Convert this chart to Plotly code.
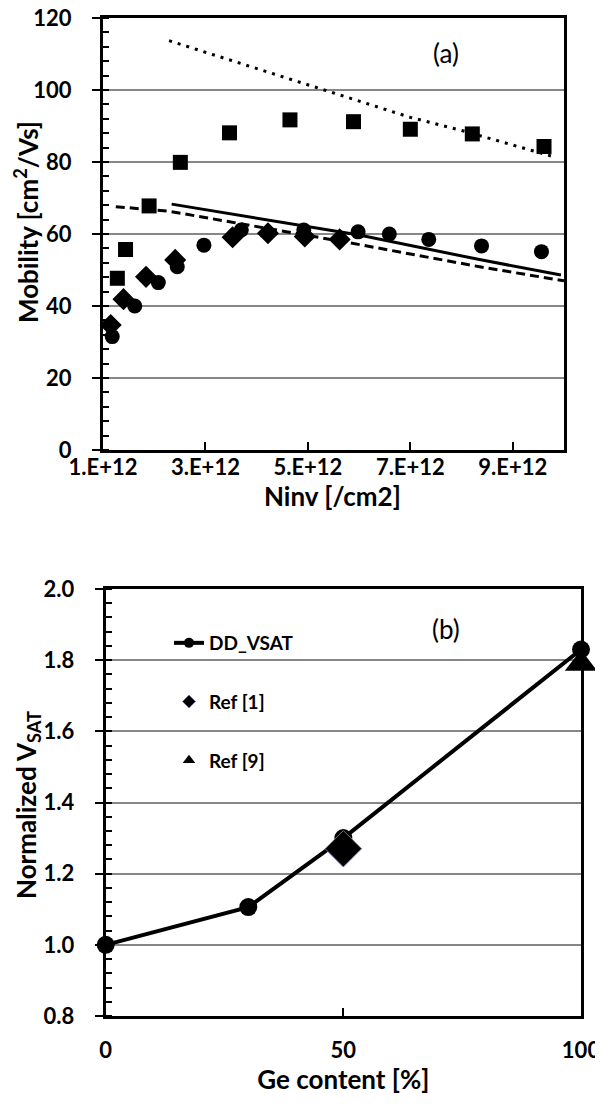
import plotly.graph_objects as go

# ---------------- data: panel (a) ----------------
sq_x = [1.28e12, 1.44e12, 1.90e12, 2.51e12, 3.47e12, 4.65e12, 5.89e12, 7.00e12, 8.21e12, 9.61e12]
sq_y = [47.7, 55.7, 67.8, 79.9, 88.1, 91.7, 91.2, 89.1, 87.8, 84.3]

ci_x = [1.18e12, 1.62e12, 2.08e12, 2.45e12, 2.97e12, 3.70e12, 4.92e12, 5.98e12, 6.59e12, 7.36e12, 8.39e12, 9.56e12]
ci_y = [31.5, 40.0, 46.5, 50.9, 56.9, 61.1, 61.1, 60.6, 60.0, 58.5, 56.7, 55.1]

di_x = [1.15e12, 1.40e12, 1.84e12, 2.41e12, 3.53e12, 4.22e12, 4.94e12, 5.62e12]
di_y = [34.7, 41.9, 48.1, 52.8, 59.1, 60.2, 59.3, 58.5]

dot_x = [2.29e12, 5.29e12, 7.00e12, 8.09e12, 9.84e12]
dot_y = [113.7, 100.2, 92.4, 88.4, 81.3]

sol_x = [2.34e12, 6.00e12, 8.35e12, 9.94e12]
sol_y = [68.3, 59.7, 52.9, 48.6]

das_x = [1.25e12, 2.30e12, 5.80e12, 8.35e12, 1.0e13]
das_y = [67.6, 66.3, 57.6, 50.9, 47.0]

xa_tickvals = [1e12, 3e12, 5e12, 7e12, 9e12]
xa_ticktext = ["1.E+12", "3.E+12", "5.E+12", "7.E+12", "9.E+12"]

# ---------------- data: panel (b) ----------------
ge = [0, 30, 50, 100]
vsat = [1.0, 1.106, 1.30, 1.83]
ref1_x = [50]
ref1_y = [1.27]
ref9_x = [100]
ref9_y = [1.79]

FONT = "Lato"
OFF = 8                      # default body margin of the html page
W, H = 603 - OFF, 1106 - 2 * OFF

def px(x):
    return (x - OFF) / W

def py(y):
    return 1 - (y - OFF) / H

fig = go.Figure()

# panel (a)
fig.add_trace(go.Scatter(x=dot_x, y=dot_y, mode="lines", line=dict(color="black", width=3, dash="3px,6px"),
                         showlegend=False, xaxis="x", yaxis="y"))
fig.add_trace(go.Scatter(x=sol_x, y=sol_y, mode="lines", line=dict(color="black", width=3),
                         showlegend=False, xaxis="x", yaxis="y"))
fig.add_trace(go.Scatter(x=das_x, y=das_y, mode="lines", line=dict(color="black", width=3, dash="9px,5px"),
                         showlegend=False, xaxis="x", yaxis="y"))
fig.add_trace(go.Scatter(x=sq_x, y=sq_y, mode="markers", marker=dict(symbol="square", size=15, color="black"),
                         showlegend=False, cliponaxis=False, xaxis="x", yaxis="y"))
fig.add_trace(go.Scatter(x=di_x, y=di_y, mode="markers", marker=dict(symbol="diamond", size=17, color="black"),
                         showlegend=False, cliponaxis=False, xaxis="x", yaxis="y"))
fig.add_trace(go.Scatter(x=ci_x, y=ci_y, mode="markers", marker=dict(symbol="circle", size=15, color="black"),
                         showlegend=False, cliponaxis=False, xaxis="x", yaxis="y"))

# panel (b)
fig.add_trace(go.Scatter(x=ge, y=vsat, mode="lines+markers", line=dict(color="black", width=4),
                         marker=dict(symbol="circle", size=18, color="black"),
                         showlegend=False, cliponaxis=False, xaxis="x2", yaxis="y2"))
fig.add_trace(go.Scatter(x=ref1_x, y=ref1_y, mode="markers",
                         marker=dict(symbol="diamond", size=28, color="black", line=dict(color="#7f6a9e", width=1)),
                         showlegend=False, cliponaxis=False, xaxis="x2", yaxis="y2"))
fig.add_trace(go.Scatter(x=ref9_x, y=ref9_y, mode="markers",
                         marker=dict(symbol="triangle-up", size=28, color="black"),
                         showlegend=False, cliponaxis=False, xaxis="x2", yaxis="y2"))

# legend entries for panel (b)
fig.add_trace(go.Scatter(x=[None], y=[None], mode="lines+markers", name="DD_VSAT", legendgroup="g1",
                         line=dict(color="black", width=4), marker=dict(symbol="circle", size=10, color="black"),
                         xaxis="x2", yaxis="y2"))
fig.add_trace(go.Scatter(x=[None], y=[None], mode="markers", name="Ref [1]", legendgroup="g2",
                         marker=dict(symbol="diamond", size=10, color="black", line=dict(color="#7f6a9e", width=1)),
                         xaxis="x2", yaxis="y2"))
fig.add_trace(go.Scatter(x=[None], y=[None], mode="markers", name="Ref [9]", legendgroup="g3",
                         marker=dict(symbol="triangle-up", size=11, color="black"),
                         xaxis="x2", yaxis="y2"))

tick_font = dict(family=FONT, size=22, color="black", weight="bold")
title_font = dict(family=FONT, size=26, color="black", weight="bold")
CLEAR = "rgba(0,0,0,0)"

dom_x1 = [px(103), px(564)]
dom_y1 = [py(450), py(18)]
dom_x2 = [px(105.7), px(581)]
dom_y2 = [py(1016), py(589)]

fig.update_layout(
    width=W, height=H,
    margin=dict(l=0, r=0, t=0, b=0),
    paper_bgcolor="white", plot_bgcolor="white",
    font=dict(family=FONT, color="black"),
    xaxis=dict(domain=dom_x1, range=[1e12, 1e13], tickvals=xa_tickvals, ticktext=xa_ticktext,
               ticks="inside", ticklen=8, tickwidth=2, tickcolor="black",
               showline=True, linecolor="black", linewidth=3, mirror=True, showgrid=False, zeroline=False,
               tickfont=tick_font, ticklabelstandoff=-4, ticklabeloverflow="allow", automargin=False,
               anchor="y"),
    # labels + grid (invisible long ticks push labels away from the axis)
    yaxis=dict(domain=dom_y1, range=[0, 120], dtick=20,
               ticks="outside", ticklen=24, tickwidth=2, tickcolor=CLEAR,
               showline=True, linecolor="black", linewidth=3, mirror=True,
               showgrid=True, gridcolor="#878787", gridwidth=2, zeroline=False,
               tickfont=tick_font, ticklabeloverflow="allow", automargin=False, anchor="x"),
    # visible tick marks
    yaxis3=dict(overlaying="y", anchor="x", side="left", range=[0, 120], dtick=20,
                ticks="outside", ticklen=10, tickwidth=2, tickcolor="black",
                minor=dict(ticks="inside", ticklen=6, dtick=4, tickwidth=2, tickcolor="black", showgrid=False),
                showticklabels=False, showgrid=False, showline=False, zeroline=False, automargin=False),
    xaxis2=dict(domain=dom_x2, range=[0, 100], tickvals=[0, 50, 100],
                ticks="inside", ticklen=8, tickwidth=2, tickcolor="black",
                showline=True, linecolor="black", linewidth=3, mirror=True, showgrid=False, zeroline=False,
                tickfont=tick_font, ticklabelstandoff=13, ticklabeloverflow="allow", automargin=False,
                title=dict(text="Ge content [%]", font=title_font, standoff=6), anchor="y2"),
    yaxis2=dict(domain=dom_y2, range=[0.8, 2.0], dtick=0.2, tickformat=".1f",
                ticks="outside", ticklen=24, tickwidth=2, tickcolor=CLEAR,
                showline=True, linecolor="black", linewidth=3, mirror=True,
                showgrid=True, gridcolor="#878787", gridwidth=2, zeroline=False,
                tickfont=tick_font, ticklabeloverflow="allow", automargin=False, anchor="x2"),
    yaxis4=dict(overlaying="y2", anchor="x2", side="left", range=[0.8, 2.0], dtick=0.2,
                ticks="outside", ticklen=10, tickwidth=2, tickcolor="black",
                minor=dict(ticks="inside", ticklen=6, dtick=0.04, tickwidth=2, tickcolor="black", showgrid=False),
                showticklabels=False, showgrid=False, showline=False, zeroline=False, automargin=False),
    legend=dict(x=px(169), y=py(624), xanchor="left", yanchor="top",
                bgcolor="rgba(0,0,0,0)",
                font=dict(family=FONT, size=19, color="black", weight="bold"),
                tracegroupgap=31, itemwidth=30),
    showlegend=True,
    annotations=[
        dict(text="(a)", x=7.7e12, y=110.3, xref="x", yref="y", showarrow=False,
             font=dict(family=FONT, size=26, color="black")),
        dict(text="(b)", x=71.7, y=1.889, xref="x2", yref="y2", showarrow=False,
             font=dict(family=FONT, size=26, color="black")),
        dict(text="Mobility [cm<sup>2</sup>/Vs]", x=px(26), y=py(222), xref="paper", yref="paper",
             textangle=-90, xanchor="center", yanchor="middle", showarrow=False, font=title_font),
        dict(text="Normalized V<sub>SAT</sub>", x=px(27), y=py(805), xref="paper", yref="paper",
             textangle=-90, xanchor="center", yanchor="middle", showarrow=False, font=title_font),
        dict(text="Ninv [/cm2]", x=px(333), y=py(496), xref="paper", yref="paper",
             xanchor="center", yanchor="middle", showarrow=False, font=title_font),
    ],
)

# hidden traces tie the tick-only overlay axes to the figure
fig.add_trace(go.Scatter(x=[None], y=[None], xaxis="x", yaxis="y3", showlegend=False, hoverinfo="skip"))
fig.add_trace(go.Scatter(x=[None], y=[None], xaxis="x2", yaxis="y4", showlegend=False, hoverinfo="skip"))

fig.write_html("out.html")
